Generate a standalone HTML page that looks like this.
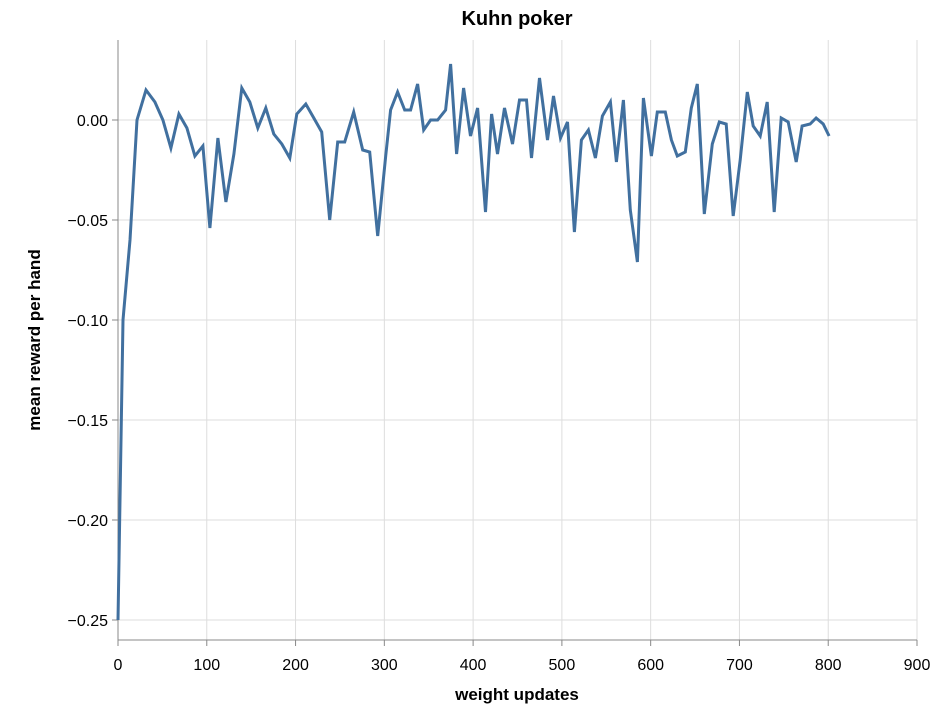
<!DOCTYPE html>
<html><head><meta charset="utf-8"><style>
body{margin:0;background:#fff;}
svg{display:block;font-family:"Liberation Sans",Arial,sans-serif;}
</style></head><body>
<svg id="chart" width="950" height="720" xmlns="http://www.w3.org/2000/svg">
<g id="grid"></g>
<g id="axes"></g>
<path id="line" fill="none" stroke="#41709f" stroke-width="3" stroke-linejoin="miter"/>
<text x="517" y="25" text-anchor="middle" font-size="20" font-weight="bold">Kuhn poker</text>
<text x="517" y="700" text-anchor="middle" font-size="17" font-weight="bold">weight updates</text>
<text transform="translate(40,340) rotate(-90)" text-anchor="middle" font-size="17" font-weight="bold">mean reward per hand</text>
</svg>
<script>
const xValues=[0,5.6,13.5,21.4,31.5,41.6,50.6,59.6,68.6,77.6,86.6,95.6,103.5,112.5,121.5,130.5,139.5,148.5,157.5,166.5,175.5,184.5,193.5,201.4,211.5,220.5,229.5,238.5,247.5,255.4,265.5,275.6,283.5,292.5,301.5,307.1,315,322.9,329.6,337.5,344.3,352.1,360,369,374.6,381.4,389.3,397.1,405,414,420.8,427.5,435.4,444.4,452.3,460.1,465.8,474.8,483.8,490.5,498.4,506.3,514.1,522,529.9,537.8,545.6,554.6,561.4,569.3,577.1,585,591.8,600.8,607.5,616.5,623.3,630,639,645.8,652.5,660.4,669.4,677.3,685.1,693,700.9,708.8,715.5,723.4,731.3,739.1,747,754.9,763.9,770.6,779.6,786.4,794.3,801];
const yValues=[-0.25,-0.10,-0.06,0.0,0.015,0.009,0.0,-0.014,0.003,-0.004,-0.018,-0.013,-0.054,-0.009,-0.041,-0.017,0.016,0.009,-0.004,0.006,-0.007,-0.012,-0.019,0.003,0.008,0.001,-0.006,-0.050,-0.011,-0.011,0.004,-0.015,-0.016,-0.058,-0.018,0.005,0.014,0.005,0.005,0.018,-0.005,0,0,0.005,0.028,-0.017,0.016,-0.008,0.006,-0.046,0.003,-0.017,0.006,-0.012,0.010,0.010,-0.019,0.021,-0.010,0.012,-0.009,-0.001,-0.056,-0.010,-0.005,-0.019,0.002,0.009,-0.021,0.010,-0.045,-0.071,0.011,-0.018,0.004,0.004,-0.010,-0.018,-0.016,0.006,0.018,-0.047,-0.012,-0.001,-0.002,-0.048,-0.020,0.014,-0.003,-0.008,0.009,-0.046,0.001,-0.001,-0.021,-0.003,-0.002,0.001,-0.002,-0.008];
const xTicks=[0,100,200,300,400,500,600,700,800,900];
const yTicks=[0,-0.05,-0.10,-0.15,-0.20,-0.25];
const yTickLabels=["0.00","−0.05","−0.10","−0.15","−0.20","−0.25"];
const X0=118,X1=917,Y0=40,Y1=640;
const xs=v=>X0+(v-0)/(900-0)*(X1-X0);
const ys=v=>Y0+(0.04-v)/(0.04+0.26)*(Y1-Y0);
const NS="http://www.w3.org/2000/svg";
const grid=document.getElementById('grid'),axes=document.getElementById('axes');
function mk(tag,attrs,parent){const e=document.createElementNS(NS,tag);for(const k in attrs)e.setAttribute(k,attrs[k]);parent.appendChild(e);return e;}
xTicks.forEach((t,i)=>{
  const g=mk('line',{x1:xs(t),x2:xs(t),y1:Y0,y2:Y1,stroke:'#ddd','stroke-width':1},grid);
  
  
  const tk=mk('line',{x1:xs(t),x2:xs(t),y1:Y1,y2:Y1+6,stroke:'#888'},axes);
  
  
  const tx=mk('text',{x:xs(t),y:Y1+30,'text-anchor':'middle','font-size':16,fill:'#000'},axes);
  tx.textContent=t;
  
  
});
yTicks.forEach((t,i)=>{
  const g=mk('line',{x1:X0,x2:X1,y1:ys(t),y2:ys(t),stroke:'#ddd','stroke-width':1},grid);
  
  
  const tk=mk('line',{x1:X0-6,x2:X0,y1:ys(t),y2:ys(t),stroke:'#888'},axes);
  
  
  const tx=mk('text',{x:X0-10,y:ys(t)+6,'text-anchor':'end','font-size':16,fill:'#000'},axes);
  tx.textContent=yTickLabels[i];
  
  
});
const xa=mk('line',{x1:X0,x2:X1,y1:Y1,y2:Y1,stroke:'#888'},axes);


const ya=mk('line',{x1:X0,x2:X0,y1:Y0,y2:Y1,stroke:'#888'},axes);


document.getElementById('line').setAttribute('d',xValues.map((v,i)=>(i?'L':'M')+xs(v).toFixed(1)+','+ys(yValues[i]).toFixed(1)).join(''));
</script>
</body></html>
